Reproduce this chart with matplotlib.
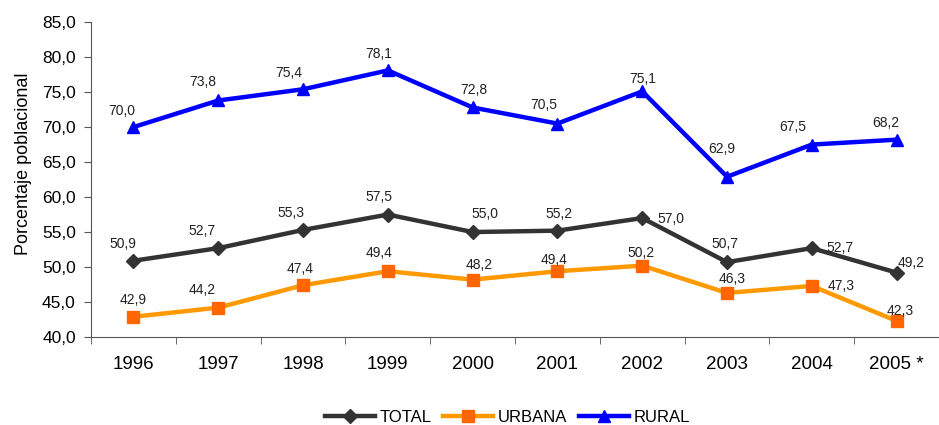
import matplotlib.pyplot as plt
import numpy as np

plt.rcParams['font.family'] = ['Liberation Sans', 'DejaVu Sans']

# data
years = ['1996', '1997', '1998', '1999', '2000', '2001', '2002', '2003', '2004', '2005 *']
total = [50.9, 52.7, 55.3, 57.5, 55.0, 55.2, 57.0, 50.7, 52.7, 49.2]
urbana = [42.9, 44.2, 47.4, 49.4, 48.2, 49.4, 50.2, 46.3, 47.3, 42.3]
rural = [70.0, 73.8, 75.4, 78.1, 72.8, 70.5, 75.1, 62.9, 67.5, 68.2]

fig = plt.figure(figsize=(9.39, 4.25), dpi=100)
ax = fig.add_axes([0.097, 0.207, 0.903, 0.741])

x = np.arange(len(years))

ax.plot(x, total, color='#333333', lw=3.2, marker='D', ms=7,
        markerfacecolor='#333333', markeredgecolor='#333333', label='TOTAL')
ax.plot(x, urbana, color='#FF9900', lw=3.2, marker='s', ms=8,
        markerfacecolor='#FF6600', markeredgecolor='#FF6600', label='URBANA')
ax.plot(x, rural, color='#0000FF', lw=3.2, marker='^', ms=9,
        markerfacecolor='#0000FF', markeredgecolor='#0000FF', label='RURAL')

# label offsets in pixels (dx right, dy down)
off_total = [(-11, -17), (-16, -17), (-12, -17), (-9, -18), (12, -18), (2, -17),
             (29, 1), (-2, -18), (28, 0), (15, -10)]
off_urbana = [(0, -17), (-16, -18), (-3, -16), (-9, -18), (7, -15), (-3, -11),
              (-1, -13), (5, -14), (29, 0), (4, -10)]
off_rural = [(-12, -16), (-16, -18), (-14, -16), (-9, -16), (1, -17), (-14, -19),
             (0, -12), (-5, -28), (-19, -18), (-11, -17)]

for series, offs in [(total, off_total), (urbana, off_urbana), (rural, off_rural)]:
    for xi, v, (dx, dy) in zip(x, series, offs):
        ax.annotate(f'{v:.1f}'.replace('.', ','), (xi, v),
                    xytext=(dx * 0.72, -dy * 0.72),
                    textcoords='offset points', ha='center', va='center',
                    fontsize=10, color='#222222')

ax.set_ylim(40, 85)
ax.set_yticks(np.arange(40, 86, 5))
ax.set_yticklabels([f'{v:.1f}'.replace('.', ',') for v in np.arange(40, 86, 5)],
                   fontsize=12.5)
ax.set_xlim(-0.5, 9.395)
ax.set_xticks(x)
ax.set_xticklabels(years, fontsize=13.5)
ax.set_xticks(np.arange(-0.5, 10, 1), minor=True)
ax.tick_params(axis='x', which='major', length=0, pad=14)
ax.tick_params(axis='x', which='minor', length=5, color='#555555')
ax.tick_params(axis='y', length=5, color='#555555', pad=6)
ax.set_ylabel('Porcentaje poblacional', fontsize=13)
ax.yaxis.set_label_coords(-0.07, 0.549)

ax.spines['top'].set_visible(False)
ax.spines['right'].set_visible(False)
ax.spines['left'].set_color('#555555')
ax.spines['bottom'].set_color('#555555')

fig.legend(loc='lower center', bbox_to_anchor=(0.54, -0.035), ncol=3, frameon=False,
           fontsize=12, handlelength=3.0, columnspacing=0.7, handletextpad=0.28)

plt.savefig('out.png', dpi=100, facecolor='white')
